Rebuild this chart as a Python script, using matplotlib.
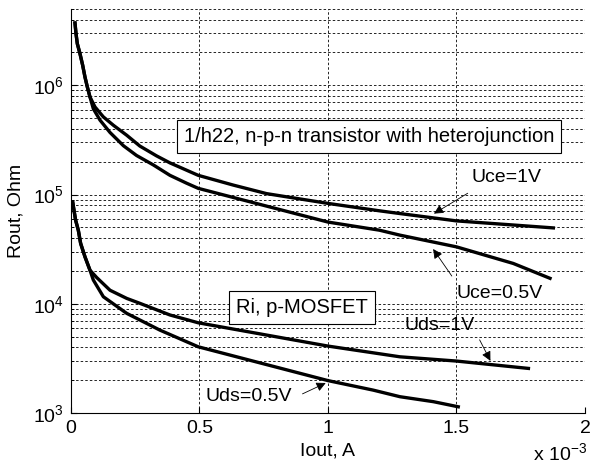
import matplotlib.pyplot as plt
from matplotlib.ticker import FuncFormatter, LogLocator

plt.rcParams['font.family'] = ['Liberation Sans', 'DejaVu Sans']
plt.rcParams['mathtext.default'] = 'regular'

# Iout, A  /  Rout, Ohm
uce1_x = [0.0156e-3, 0.0195e-3, 0.0246e-3, 0.035e-3, 0.0454e-3, 0.0545e-3, 0.0636e-3, 0.0739e-3,
          0.0934e-3, 0.126e-3, 0.165e-3, 0.217e-3, 0.268e-3, 0.333e-3, 0.385e-3, 0.45e-3, 0.495e-3,
          0.632e-3, 0.761e-3, 1.0e-3, 1.2e-3, 1.28e-3, 1.5e-3, 1.877e-3]
uce1_y = [3.72e6, 2.98e6, 2.41e6, 1.95e6, 1.53e6, 1.19e6, 9.67e5, 7.83e5,
          6.34e5, 5.14e5, 4.31e5, 3.49e5, 2.78e5, 2.26e5, 1.95e5, 1.67e5, 1.5e5,
          1.22e5, 1.02e5, 8.3e4, 7.1e4, 6.7e4, 5.74e4, 4.95e4]

uce05_x = [0.0156e-3, 0.0195e-3, 0.0246e-3, 0.035e-3, 0.0454e-3, 0.0545e-3, 0.0636e-3, 0.0739e-3,
           0.087e-3, 0.113e-3, 0.152e-3, 0.204e-3, 0.255e-3, 0.32e-3, 0.385e-3, 0.45e-3, 0.495e-3,
           1.0e-3, 1.2e-3, 1.28e-3, 1.5e-3, 1.721e-3, 1.864e-3]
uce05_y = [3.72e6, 2.98e6, 2.41e6, 1.95e6, 1.53e6, 1.19e6, 9.67e5, 7.83e5,
           6.1e5, 4.8e5, 3.7e5, 2.8e5, 2.28e5, 1.87e5, 1.5e5, 1.27e5, 1.14e5,
           5.6e4, 4.72e4, 4.25e4, 3.32e4, 2.34e4, 1.71e4]

uds1_x = [0.0066e-3, 0.0117e-3, 0.018e-3, 0.0285e-3, 0.0376e-3, 0.0545e-3, 0.0739e-3, 0.1e-3,
          0.152e-3, 0.217e-3, 0.268e-3, 0.385e-3, 0.495e-3, 1.0e-3, 1.28e-3, 1.5e-3, 1.78e-3]
uds1_y = [8.57e4, 7.19e4, 5.83e4, 4.72e4, 3.57e4, 2.69e4, 2.03e4, 1.74e4,
          1.33e4, 1.12e4, 1.01e4, 7.9e3, 6.7e3, 4.1e3, 3.27e3, 2.99e3, 2.56e3]

uds05_x = [0.0066e-3, 0.0117e-3, 0.018e-3, 0.0285e-3, 0.0376e-3, 0.0545e-3, 0.0739e-3, 0.087e-3,
           0.126e-3, 0.217e-3, 0.346e-3, 0.495e-3, 1.0e-3, 1.176e-3, 1.28e-3, 1.41e-3, 1.507e-3]
uds05_y = [8.57e4, 7.19e4, 5.83e4, 4.72e4, 3.57e4, 2.69e4, 2.03e4, 1.65e4,
           1.16e4, 8.17e3, 5.74e3, 4.04e3, 1.98e3, 1.62e3, 1.41e3, 1.27e3, 1.14e3]

xticks = [0, 0.5e-3, 1e-3, 1.5e-3, 2e-3]

fig = plt.figure(figsize=(5.9, 4.68), dpi=100)
ax = fig.add_axes([0.1203, 0.1175, 0.8712, 0.8633])

for xs, ys in [(uce1_x, uce1_y), (uce05_x, uce05_y), (uds1_x, uds1_y), (uds05_x, uds05_y)]:
    ax.plot(xs, ys, color='k', lw=2.4, solid_joinstyle='round')

ax.set_yscale('log')
ax.set_xlim(0, 2e-3)
ax.set_ylim(1e3, 5e6)
ax.set_xticks(xticks)
ax.xaxis.set_major_formatter(FuncFormatter(lambda v, p: f'{v * 1e3:g}'))
ax.yaxis.set_major_locator(LogLocator(base=10, numticks=10))
ax.yaxis.set_minor_locator(LogLocator(base=10, subs=range(2, 10), numticks=20))

ax.grid(True, which='both', axis='y', color='k', ls=(0, (3, 2.5)), lw=0.6)
ax.grid(True, which='major', axis='x', color='k', ls=(0, (3, 2.5)), lw=0.6)
ax.spines['top'].set_visible(False)
ax.spines['right'].set_visible(False)
ax.tick_params(which='both', direction='in', labelsize=14)
ax.tick_params(which='major', length=4, pad=5)
ax.tick_params(which='minor', length=2)
ax.tick_params(top=False, right=False)

ax.set_xlabel('Iout, A', fontsize=14, labelpad=4)
ax.set_ylabel('Rout, Ohm', fontsize=14, labelpad=6)
fig.text(0.95, 0.008, r'x 10$^{-3}$', fontsize=14, ha='center', va='bottom')

box = dict(boxstyle='square,pad=0.35', fc='white', ec='k', lw=0.8)
ax.text(1.16e-3, 3.4e5, '1/h22, n-p-n transistor with heterojunction', fontsize=14.5,
        ha='center', va='center', bbox=box)
ax.text(0.899e-3, 9.2e3, 'Ri, p-MOSFET', fontsize=14.5, ha='center', va='center', bbox=box)

arrow = dict(arrowstyle='-|>', color='k', lw=0.6, mutation_scale=14)
ax.annotate('', xy=(1.403e-3, 6.49e4), xytext=(1.553e-3, 1.06e5), arrowprops=arrow)
ax.text(1.693e-3, 1.43e5, 'Uce=1V', fontsize=14, ha='center', va='center')
ax.annotate('', xy=(1.403e-3, 3.33e4), xytext=(1.488e-3, 1.71e4), arrowprops=arrow)
ax.text(1.669e-3, 1.24e4, 'Uce=0.5V', fontsize=14, ha='center', va='center')
ax.annotate('', xy=(1.637e-3, 2.85e3), xytext=(1.585e-3, 4.93e3), arrowprops=arrow)
ax.text(1.436e-3, 6.32e3, 'Uds=1V', fontsize=14, ha='center', va='center')
ax.annotate('', xy=(1.001e-3, 1.93e3), xytext=(0.891e-3, 1.46e3), arrowprops=arrow)
ax.text(0.691e-3, 1.42e3, 'Uds=0.5V', fontsize=14, ha='center', va='center')

fig.savefig('out.png', dpi=100)
